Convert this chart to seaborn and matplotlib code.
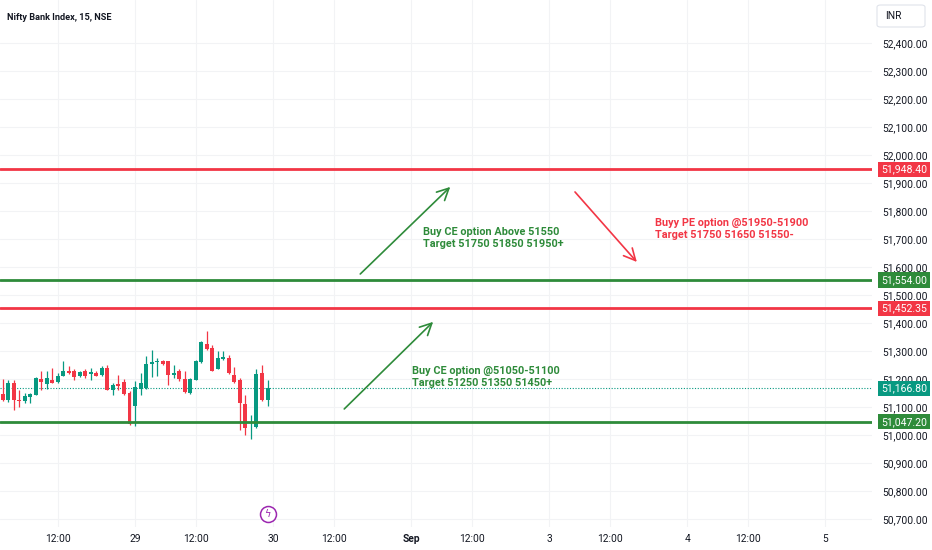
import numpy as np
import pandas as pd
import matplotlib
matplotlib.use("Agg")
import matplotlib.pyplot as plt
import matplotlib.transforms as mtrans
from matplotlib.patches import FancyBboxPatch
import seaborn as sns

# ─────────────────────────────────────────────
# Data (15-min bars, index 0 = first bar of Aug 29)
# ─────────────────────────────────────────────
bar_start = -24
opens  = [51147, 51124, 51186, 51125, 51120, 51137, 51144, 51200, 51182, 51197,
          51188, 51212, 51230, 51228, 51209, 51230, 51219, 51222, 51213, 51239,
          51160, 51182, 51188, 51150, 51103, 51166, 51168, 51254, 51262, 51266,
          51263, 51213, 51228, 51200, 51150, 51198, 51261, 51325, 51311, 51236,
          51273, 51275, 51216, 51198, 51112, 51028, 51028, 51222, 51124]
highs  = [51200, 51198, 51195, 51162, 51150, 51150, 51206, 51228, 51228, 51239,
          51222, 51266, 51245, 51234, 51230, 51234, 51239, 51228, 51248, 51251,
          51186, 51216, 51200, 51156, 51194, 51222, 51281, 51305, 51275, 51269,
          51266, 51251, 51234, 51228, 51204, 51269, 51335, 51373, 51323, 51299,
          51299, 51285, 51242, 51204, 51142, 51073, 51234, 51251, 51198]
lows   = [51120, 51118, 51091, 51099, 51113, 51115, 51142, 51162, 51166, 51185,
          51186, 51210, 51218, 51195, 51206, 51204, 51195, 51210, 51210, 51159,
          51144, 51162, 51144, 51037, 51031, 51144, 51166, 51206, 51210, 51251,
          51180, 51204, 51192, 51150, 51148, 51195, 51257, 51305, 51228, 51234,
          51269, 51218, 51186, 51019, 51001, 50987, 51025, 51123, 51103]
closes = [51125, 51186, 51124, 51120, 51141, 51148, 51204, 51188, 51204, 51185,
          51212, 51228, 51220, 51207, 51224, 51212, 51224, 51212, 51239, 51162,
          51180, 51176, 51147, 51041, 51170, 51186, 51254, 51261, 51266, 51255,
          51216, 51222, 51200, 51154, 51200, 51266, 51331, 51307, 51230, 51275,
          51278, 51222, 51190, 51115, 51025, 51030, 51218, 51126, 51166.8]

level_prices = [51948.40, 51554.00, 51452.35, 51047.20]
level_colors = ["#F23645", "#2E8B3A", "#F23645", "#2E8B3A"]
last_price = 51166.80

tick_pos    = [-14, 0, 11, 25, 36, 50, 61, 75, 86, 100, 111, 125]
tick_labels = ["12:00", "29", "12:00", "30", "12:00", "Sep", "12:00", "3",
               "12:00", "4", "12:00", "5"]
price_ticks = list(range(50700, 52500, 100))

UP, DOWN = "#089981", "#F23645"
GREEN_TXT, RED_TXT = "#2E8B3A", "#F23645"

df = pd.DataFrame({"open": opens, "high": highs, "low": lows, "close": closes})
df["bar"] = np.arange(bar_start, bar_start + len(df))
df["color"] = np.where(df["close"] >= df["open"], UP, DOWN)

# ─────────────────────────────────────────────
# Figure
# ─────────────────────────────────────────────
sns.set_theme(style="white")
plt.rcParams["font.family"] = ["Roboto", "DejaVu Sans"]

W, H = 932, 550
fig = plt.figure(figsize=(W / 100, H / 100), dpi=100)
ax = fig.add_axes([0, 23 / H, 872 / W, 527 / H])

# grid
for p in price_ticks:
    ax.axhline(p, color="#f2f3f5", lw=0.8, zorder=0)
for t in tick_pos:
    ax.axvline(t, color="#f2f3f5", lw=0.8, zorder=0)

# candles: wicks then bodies
ax.vlines(df["bar"], df["low"], df["high"], colors=df["color"], lw=0.9, zorder=2)
body_lo = df[["open", "close"]].min(axis=1)
body_h = (df["open"] - df["close"]).abs().clip(lower=2)
ax.bar(df["bar"], body_h, bottom=body_lo, width=0.72, color=df["color"],
       lw=0, zorder=3)

# level lines
for p, c in zip(level_prices, level_colors):
    ax.axhline(p, color=c, lw=2, zorder=4)
ax.axhline(last_price, color=UP, lw=0.8, ls=(0, (1, 1.5)), zorder=1)

# arrows
arrow_specs = [
    ((40.8, 51575), (57.1, 51886), GREEN_TXT),
    ((79.7, 51868), (90.9, 51618), RED_TXT),
    ((37.9, 51093), (54.0, 51404), GREEN_TXT),
]
for start, end, c in arrow_specs:
    ax.annotate("", xy=end, xytext=start,
                arrowprops=dict(arrowstyle="->,head_length=0.7,head_width=0.35",
                                color=c, lw=1.2, shrinkA=0, shrinkB=0))

# notes
notes = [
    (52.2, 51702, "Buy CE option Above 51550\nTarget 51750 51850 51950+", GREEN_TXT),
    (94.2, 51736, "Buyy PE option @51950-51900\nTarget 51750 51650 51550-", RED_TXT),
    (50.2, 51208, "Buy CE option @51050-51100\nTarget 51250 51350 51450+", GREEN_TXT),
]
for x, y, s, c in notes:
    ax.text(x, y, s, color=c, fontsize=7.85, fontweight="bold", ha="left",
            va="center", linespacing=1.25, zorder=5)

# flash icon
ax.plot([24], [50718], marker="o", ms=11.5, mfc="white", mec="#9C27B0",
        mew=1.1, clip_on=False, zorder=6)
ax.text(24, 50718, "ϟ", color="#9C27B0", fontsize=7, ha="center",
        va="center", family="DejaVu Sans", zorder=7)

# axes setup
ax.set_xlim(-24.46, 133.5)
ax.set_ylim(50671.4, 52553.6)
ax.set_xticks(tick_pos)
ax.set_xticklabels(tick_labels)
for lbl in ax.get_xticklabels():
    if lbl.get_text() == "Sep":
        lbl.set_fontweight("bold")
ax.yaxis.tick_right()
ax.set_yticks(price_ticks)
ax.set_yticklabels([f"{p:,.2f}" for p in price_ticks])
ax.tick_params(axis="both", length=0, labelsize=7.4, colors="#131722")
ax.tick_params(axis="y", pad=7.5)
ax.tick_params(axis="x", pad=5)
for s in ax.spines.values():
    s.set_visible(False)

# price labels on the right scale
trans = mtrans.blended_transform_factory(fig.transFigure, ax.transData)
for p, c in zip(level_prices + [last_price], level_colors + [UP]):
    ax.text(904 / W, p, f"{p:,.2f}", transform=trans, color="white",
            fontsize=7.6, ha="center", va="center", clip_on=False, zorder=8,
            bbox=dict(boxstyle="square,pad=0.25", fc=c, ec="none"))

# header texts
fig.text(7 / W, 1 - 17 / H, "Nifty Bank Index, 15, NSE", fontsize=6.6,
         fontweight="bold", color="#131722", va="center", ha="left")
fig.patches.append(FancyBboxPatch((877 / W, 1 - 27 / H), 48 / W, 22 / H,
                                  boxstyle="round,pad=0,rounding_size=0.004",
                                  transform=fig.transFigure, fc="white",
                                  ec="#e0e3eb", lw=0.8))
fig.text(885 / W, 1 - 16 / H, "INR", fontsize=7.4, color="#131722",
         va="center", ha="left")

fig.savefig("out.png", dpi=100)
